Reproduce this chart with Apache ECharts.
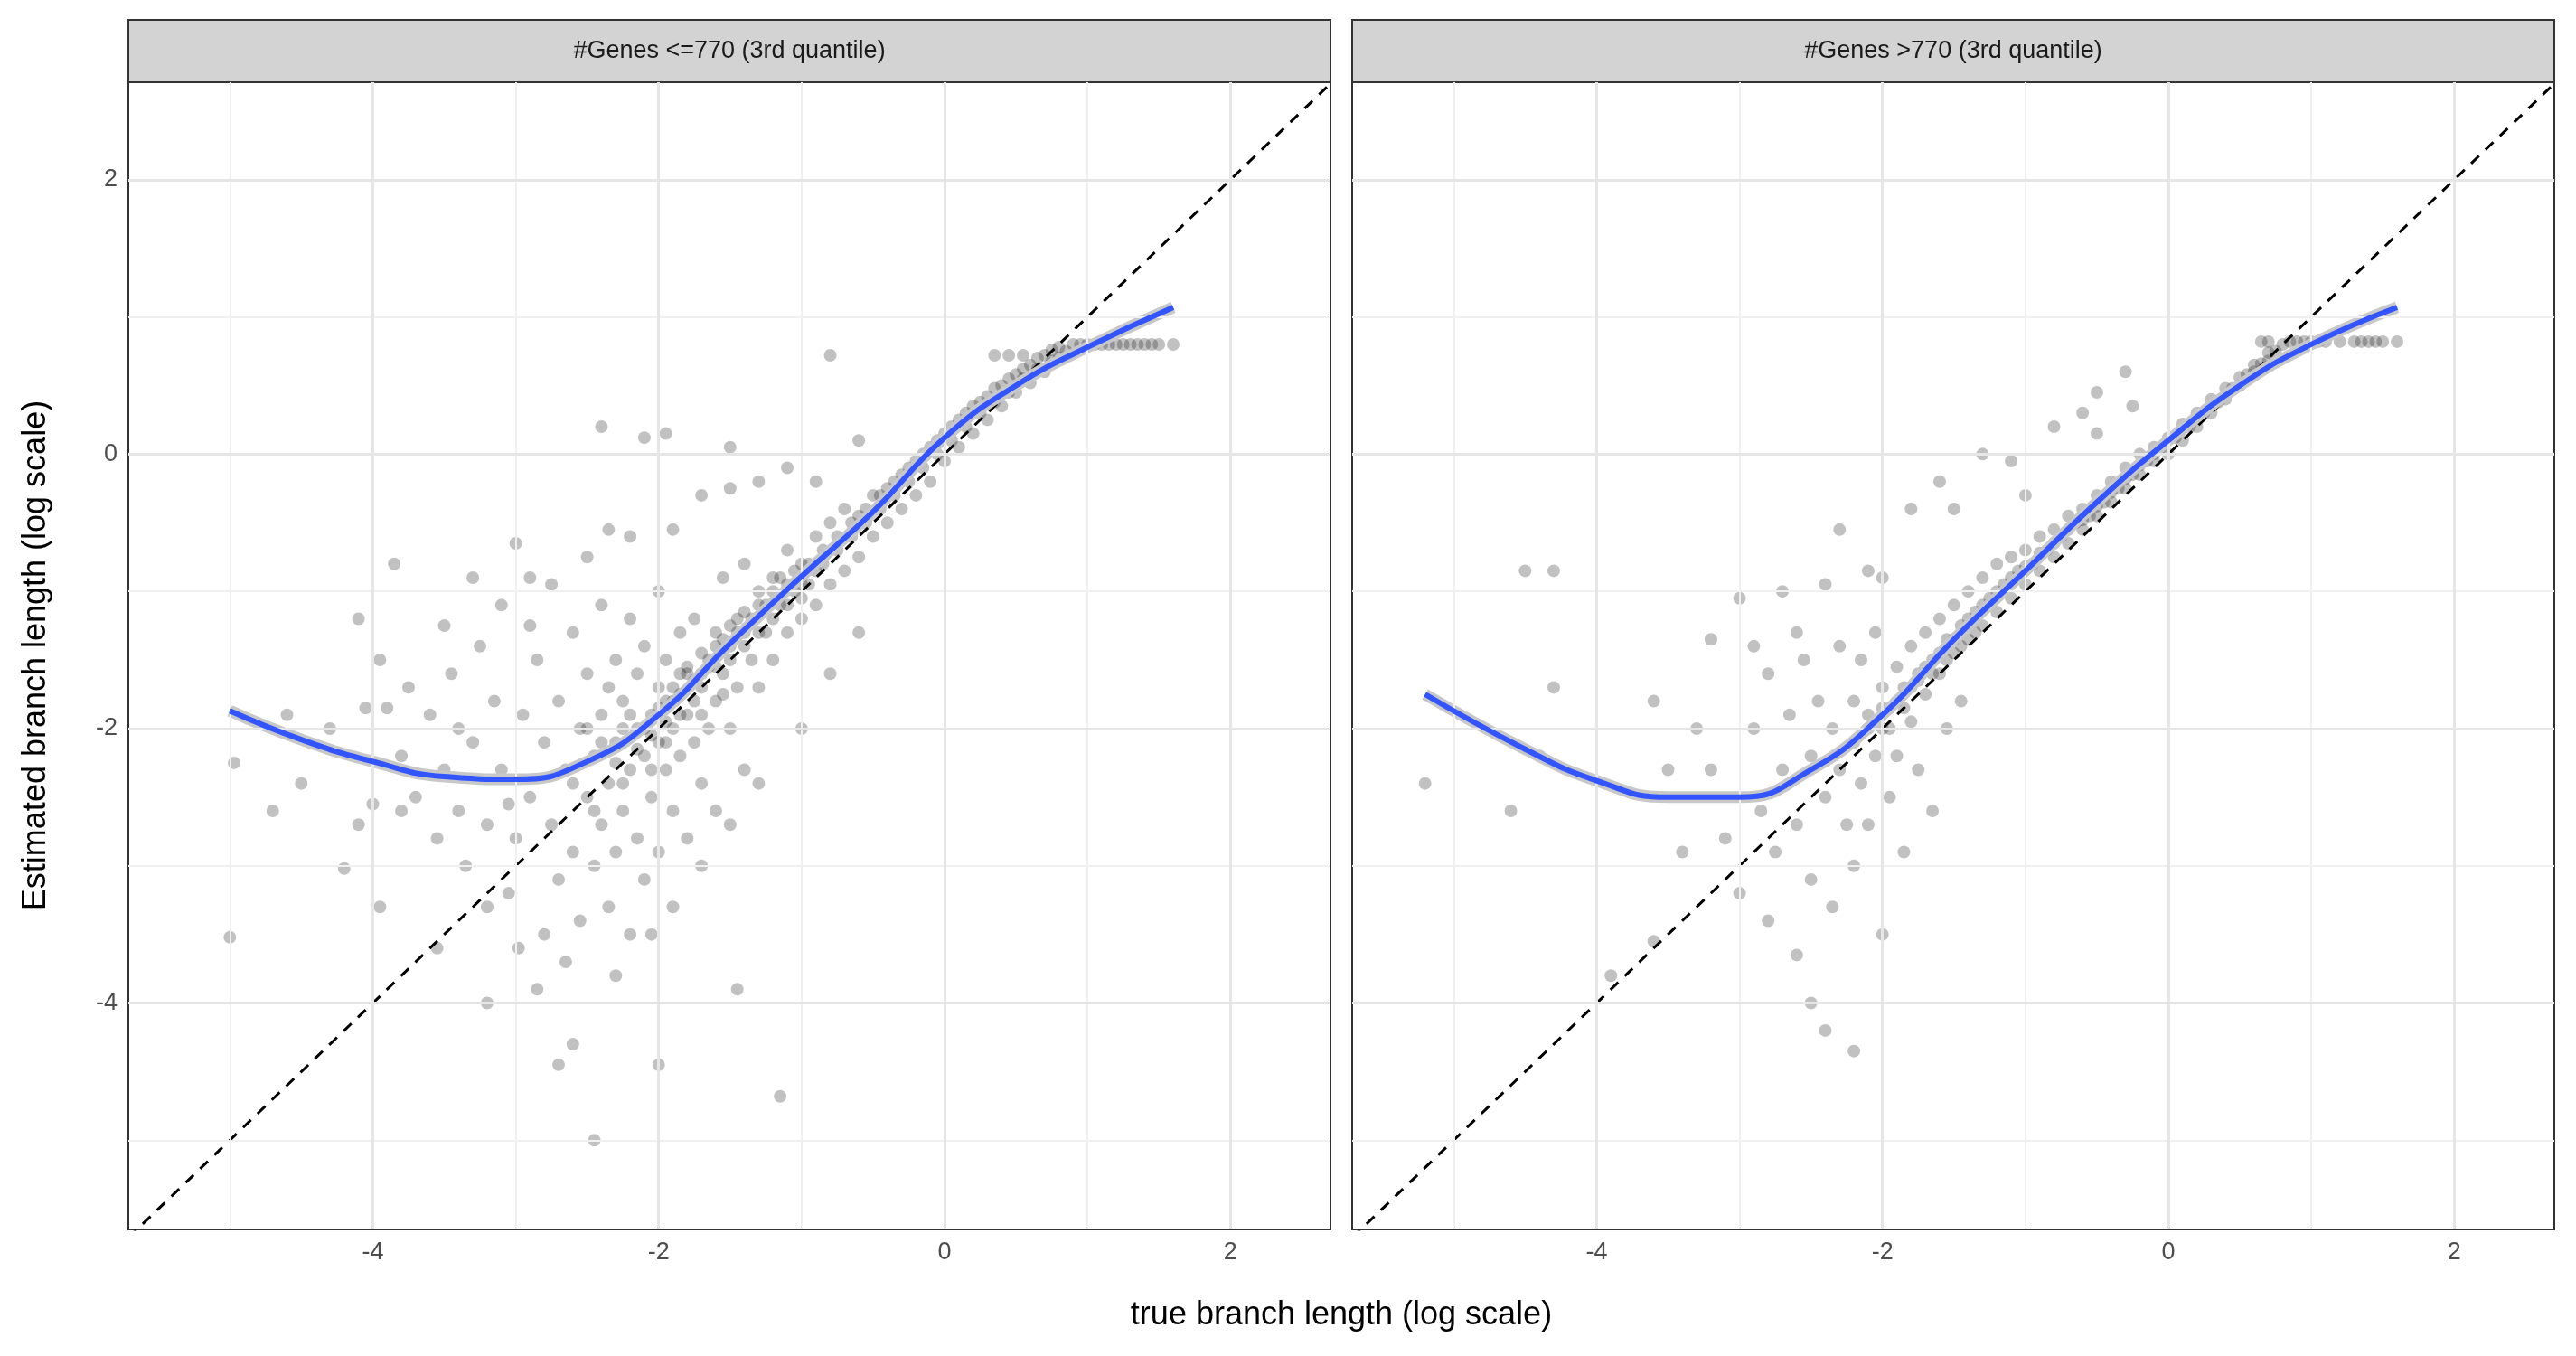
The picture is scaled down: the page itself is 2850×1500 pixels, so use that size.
<!DOCTYPE html>
<html>
<head>
<meta charset="utf-8">
<script src="https://cdn.jsdelivr.net/npm/echarts@6/dist/echarts.min.js"></script>
<style>html,body{margin:0;padding:0;background:#fff}#main{width:2850px;height:1500px}</style>
</head>
<body>
<div id="main"></div>
<script>
// axis limits and ticks
var axisMinX = -5.71, axisMaxX = 2.70;
var axisMinY = -5.65, axisMaxY = 2.71;
var majorTicks = [-4, -2, 0, 2];
var minorTicks = [-5, -3, -1, 1];
var panelTitles = ['#Genes <=770 (3rd quantile)', '#Genes >770 (3rd quantile)'];

// loess curves
var smoothLeft = [[-5,-1.87],[-4.5,-2.08],[-4,-2.24],[-3.5,-2.35],[-3,-2.37],[-2.5,-2.24],[-2,-1.9],[-1.5,-1.38],[-1,-0.89],[-0.5,-0.42],[0,0.12],[0.5,0.5],[1,0.78],[1.6,1.07]];
var smoothRight = [[-5.2,-1.75],[-4.5,-2.15],[-4,-2.38],[-3.5,-2.5],[-3,-2.5],[-2.5,-2.3],[-2,-1.9],[-1.5,-1.35],[-1,-0.85],[-0.5,-0.35],[0,0.1],[0.5,0.5],[1,0.8],[1.6,1.07]];

// scatter points, left panel
var pointsLeft = [
[-5,-3.52],[-4.97,-2.25],[-4.2,-3.02],[-4.1,-2.7],[-3.95,-1.5],[-3.9,-1.85],[-4.05,-1.85],[-3.8,-2.6],[-3.75,-1.7],[-3.5,-1.25],[-3.4,-2.0],[-3.55,-3.6],[-3.2,-4.0],[-3.0,-0.65],[-2.9,-0.9],[-2.7,-4.45],[-2.6,-4.3],[-2.45,-5.0],[-2.35,-0.55],[-2.4,0.2],[-2.1,0.12],[-1.95,0.15],[-1.45,-3.9],[-1.15,-4.68],[-0.8,0.72],[-1.5,0.05],[-3.85,-0.8],[-4.1,-1.2],[-3.3,-0.9],[-2.0,-4.45],
[-3.8,-2.2],[-3.7,-2.5],[-3.6,-1.9],[-3.55,-2.8],[-3.5,-2.3],[-3.45,-1.6],[-3.4,-2.6],[-3.35,-3.0],[-3.3,-2.1],[-3.25,-1.4],[-3.2,-2.7],[-3.2,-3.3],[-3.15,-1.8],[-3.1,-1.1],[-3.05,-2.55],[-2.98,-3.6],[-2.9,-1.25],[-2.85,-3.9],[-2.75,-0.95],[-2.65,-3.7],[-2.5,-0.75],[-2.3,-3.8],[-2.2,-0.6],[-2.05,-3.5],[-1.9,-0.55],[-1.9,-3.3],[-1.7,-0.3],[-1.7,-3.0],[-1.5,-0.25],[-1.5,-2.7],[-1.3,-0.2],[-1.3,-2.4],[-1.1,-0.1],[-1.0,-2.0],[-0.9,-0.2],[-0.8,-1.6],[-0.6,0.1],[-0.6,-1.3],[-4.5,-2.4],[-4.3,-2.0],[-4.0,-2.55],[-3.95,-3.3],[-4.6,-1.9],[-4.7,-2.6],
[-3.1,-2.3],[-3,-2.8],[-2.95,-1.9],[-3.05,-3.2],[-2.9,-2.5],[-2.85,-1.5],[-2.8,-3.5],[-2.8,-2.1],[-2.75,-2.7],[-2.7,-1.8],[-2.7,-3.1],[-2.65,-2.3],[-2.6,-1.3],[-2.6,-2.9],[-2.55,-2.0],[-2.55,-3.4],[-2.5,-2.5],[-2.5,-1.6],[-2.45,-2.2],[-2.45,-3.0],[-2.4,-1.1],[-2.4,-2.7],[-2.4,-1.9],[-2.35,-3.3],[-2.35,-2.4],[-2.3,-1.5],[-2.3,-2.1],[-2.3,-2.9],[-2.25,-1.8],[-2.25,-2.6],[-2.2,-1.2],[-2.2,-2.3],[-2.2,-3.5],[-2.15,-2.0],[-2.15,-1.6],[-2.15,-2.8],[-2.1,-2.2],[-2.1,-1.4],[-2.1,-3.1],[-2.05,-1.9],[-2.05,-2.5],[-2.0,-2.1],[-2.0,-1.7],[-2.0,-2.9],[-2.0,-1.0],[-1.95,-2.3],[-1.95,-1.5],[-1.9,-2.0],[-1.9,-1.8],[-1.9,-2.6],[-1.85,-1.3],[-1.85,-2.2],[-1.8,-1.9],[-1.8,-1.6],[-1.8,-2.8],[-1.75,-2.1],[-1.75,-1.2],[-1.7,-1.7],[-1.7,-2.4],[-1.65,-1.5],[-1.65,-2.0],[-1.6,-1.3],[-1.6,-1.8],[-1.6,-2.6],[-1.55,-1.6],[-1.55,-0.9],[-1.5,-1.4],[-1.5,-2.0],[-1.45,-1.2],[-1.45,-1.7],[-1.4,-1.3],[-1.4,-0.8],[-1.4,-2.3],[-1.35,-1.5],[-1.3,-1.1],[-1.3,-1.7],[-1.25,-1.3],[-1.2,-0.9],[-1.2,-1.5],[-1.15,-1.1],[-1.1,-0.7],[-1.1,-1.3],[-1.05,-1.0],[-1.0,-0.8],[-1.0,-1.2],[-0.95,-0.95],[-0.9,-0.6],[-0.9,-1.1],[-0.85,-0.8],[-0.8,-0.5],[-0.8,-0.95],[-0.75,-0.7],[-0.7,-0.4],[-0.7,-0.85],[-0.65,-0.6],[-0.6,-0.45],[-0.6,-0.75],[-0.55,-0.5],[-0.5,-0.3],[-0.5,-0.6],[-0.45,-0.4],[-0.4,-0.25],[-0.4,-0.5],[-0.35,-0.3],[-0.3,-0.15],[-0.3,-0.4],[-0.25,-0.2],[-0.2,-0.05],[-0.2,-0.3],[-0.15,-0.1],[-0.1,0.05],[-0.1,-0.2],[-0.05,0.0],[0,0.15],[0,-0.05],[0.05,0.1],[0.1,0.25],[0.1,0.05],[0.15,0.2],[0.2,0.35],[0.2,0.15],[0.25,0.3],[0.3,0.42],[0.3,0.25],[0.35,0.38],[0.4,0.5],[0.4,0.35],[0.45,0.45],[0.5,0.58],[0.5,0.45],[0.55,0.55],[0.6,0.65],[0.6,0.52],[0.65,0.62],[0.7,0.72],[0.7,0.6],[0.75,0.68],[0.8,0.78],[0.8,0.7],[0.85,0.75],[0.9,0.8],[0.95,0.8],[1.0,0.8],[1.05,0.8],[1.1,0.8],[1.15,0.8],[1.2,0.8],[1.25,0.8],[1.3,0.8],[1.35,0.8],[1.4,0.8],[1.45,0.8],[1.5,0.8],[1.6,0.8],[0.35,0.72],[0.45,0.72],[0.55,0.72],
[-2.2,-1.9],[-2.1,-2.0],[-2.0,-1.85],[-1.95,-1.95],[-1.9,-1.7],[-1.85,-1.75],[-1.8,-1.55],[-1.75,-1.65],[-1.7,-1.45],[-1.65,-1.55],[-1.6,-1.4],[-1.55,-1.35],[-1.5,-1.25],[-1.45,-1.3],[-1.4,-1.15],[-1.35,-1.2],[-1.3,-1.0],[-1.25,-1.1],[-1.2,-1.0],[-1.15,-0.9],[-1.1,-0.95],[-1.05,-0.85],[-1.0,-0.95],[-0.95,-0.8],[-0.9,-0.85],[-0.85,-0.7],[-0.75,-0.6],[-0.65,-0.5],[-0.55,-0.4],[-0.45,-0.3],[-0.35,-0.2],[-0.25,-0.1],[-0.15,0.0],[-0.05,0.1],[0.05,0.2],[0.15,0.3],[0.25,0.38],[0.35,0.48],[0.45,0.55],[0.55,0.62],[0.65,0.7],[0.75,0.76],
[-2.4,-2.1],[-2.3,-2.25],[-2.25,-2.0],[-2.15,-2.15],[-2.05,-2.05],[-1.95,-1.8],[-1.85,-1.9],[-1.75,-1.8],[-1.7,-1.6],[-1.6,-1.55],[-1.5,-1.5],[-1.4,-1.4],[-1.3,-1.3],[-1.2,-1.2],[-1.1,-1.1],[-1.0,-1.05],[-2.6,-2.4],[-2.5,-2.0],[-2.45,-2.6],[-2.35,-1.7],[-2.25,-2.4],[-2.05,-2.3],[-1.95,-2.1],[-1.85,-1.6],[-1.7,-1.9],[-1.55,-1.75]
];

// scatter points, right panel
var pointsRight = [
[-5.2,-2.4],[-4.6,-2.6],[-4.5,-0.85],[-4.3,-0.85],[-4.3,-1.7],[-4.4,-2.2],[-3.9,-3.8],[-3.6,-3.55],[-3.2,-1.35],[-3.0,-1.05],[-2.7,-1.0],[-2.6,-3.65],[-2.5,-4.0],[-2.4,-4.2],[-2.2,-4.35],[-2.4,-0.95],[-2.1,-0.85],[-1.5,-0.4],[-0.5,0.45],[-0.25,0.35],[-0.5,0.15],[-1.0,-0.3],[-2.3,-0.55],[-1.1,-0.05],[-3.5,-2.3],[-3.3,-2.0],[-3.6,-1.8],[-3.1,-2.8],[-3.4,-2.9],[-3.0,-3.2],[-2.8,-3.4],[-3.2,-2.3],
[-2.9,-2.0],[-2.85,-2.6],[-2.8,-1.6],[-2.75,-2.9],[-2.7,-2.3],[-2.65,-1.9],[-2.6,-2.7],[-2.55,-1.5],[-2.5,-2.2],[-2.5,-3.1],[-2.45,-1.8],[-2.4,-2.5],[-2.35,-2.0],[-2.35,-3.3],[-2.3,-1.4],[-2.3,-2.3],[-2.25,-2.7],[-2.2,-1.8],[-2.2,-2.1],[-2.2,-3.0],[-2.15,-1.5],[-2.15,-2.4],[-2.1,-1.9],[-2.1,-2.7],[-2.05,-1.3],[-2.05,-2.2],[-2.0,-1.7],[-2.0,-2.0],[-2.0,-3.5],[-1.95,-1.85],[-1.95,-2.5],[-1.9,-1.55],[-1.9,-2.2],[-1.85,-1.7],[-1.85,-2.9],[-1.8,-1.4],[-1.8,-1.95],[-1.75,-1.6],[-1.75,-2.3],[-1.7,-1.3],[-1.7,-1.75],[-1.65,-1.5],[-1.65,-2.6],[-1.6,-1.2],[-1.6,-1.6],[-1.55,-1.35],[-1.55,-2.0],[-1.5,-1.1],[-1.5,-1.45],[-1.45,-1.25],[-1.45,-1.8],[-1.4,-1.0],[-1.4,-1.35],[-1.35,-1.15],[-1.3,-0.9],[-1.3,-1.25],[-1.25,-1.05],[-1.2,-0.8],[-1.2,-1.15],[-1.15,-0.95],[-1.1,-0.75],[-1.1,-1.05],[-1.05,-0.85],[-1.0,-0.7],[-1.0,-0.95],[-0.95,-0.8],[-0.9,-0.6],[-0.9,-0.85],[-0.85,-0.7],[-0.8,-0.55],[-0.8,-0.75],[-0.75,-0.6],[-0.7,-0.45],[-0.7,-0.65],[-0.65,-0.5],[-0.6,-0.4],[-0.6,-0.55],[-0.55,-0.45],[-0.5,-0.3],[-0.5,-0.45],[-0.45,-0.35],[-0.4,-0.2],[-0.4,-0.35],[-0.35,-0.25],[-0.3,-0.1],[-0.3,-0.25],[-0.25,-0.15],[-0.2,0.0],[-0.2,-0.15],[-0.15,-0.05],[-0.1,0.05],[-0.1,-0.05],[-0.05,0.05],[0,0.12],[0,0.0],[0.05,0.12],[0.1,0.22],[0.1,0.1],[0.15,0.2],[0.2,0.3],[0.2,0.2],[0.25,0.3],[0.3,0.4],[0.3,0.3],[0.35,0.38],[0.4,0.48],[0.4,0.4],[0.45,0.48],[0.5,0.56],[0.5,0.5],[0.55,0.58],[0.6,0.65],[0.6,0.6],[0.65,0.66],[0.7,0.74],[0.7,0.68],[0.75,0.75],[0.8,0.8],[0.85,0.82],[0.9,0.82],[0.95,0.82],[1.0,0.82],[1.05,0.82],[1.1,0.82],[1.2,0.82],[1.3,0.82],[1.35,0.82],[1.4,0.82],[1.45,0.82],[1.5,0.82],[1.6,0.82],[0.65,0.82],[0.7,0.82],
[-1.6,-0.2],[-1.8,-0.4],[-0.8,0.2],[-0.3,0.6],[-1.3,0.0],[-0.6,0.3],[-2.6,-1.3],[-2.9,-1.4],[-2.0,-0.9],
[-1.9,-1.8],[-1.8,-1.7],[-1.7,-1.55],[-1.6,-1.45],[-1.5,-1.35],[-1.4,-1.2],[-1.3,-1.1],[-1.2,-1.0],[-1.1,-0.9],[-1.0,-0.82],[-0.9,-0.72],[-0.8,-0.65],[-0.7,-0.55],[-0.6,-0.48],[-0.5,-0.38],[-0.4,-0.28],[-0.3,-0.18],[-0.2,-0.08],[-0.1,0.0],[-2.1,-2.0],[-2.0,-1.85],[-1.95,-2.0],[-1.85,-1.85],[-1.75,-1.65],[-1.65,-1.6],[-1.55,-1.5],[-1.45,-1.4],[-1.35,-1.3]
];

var chart = echarts.init(document.getElementById('main'));

var panels = [
  {left: 142, points: pointsLeft, smooth: smoothLeft},
  {left: 1496, points: pointsRight, smooth: smoothRight}
];
var panelTop = 91, panelWidth = 1330, panelHeight = 1269;

var grids = [], xAxes = [], yAxes = [], series = [], graphics = [];

panels.forEach(function (p, i) {
  grids.push({left: p.left, top: panelTop, width: panelWidth, height: panelHeight,
    show: true, borderColor: '#333', borderWidth: 2, backgroundColor: '#fff'});
  xAxes.push({type: 'value', gridIndex: i, min: axisMinX, max: axisMaxX,
    axisLine: {show: false}, splitLine: {show: false},
    axisTick: {show: true, customValues: majorTicks, length: 8, lineStyle: {color: '#333', width: 2}},
    axisLabel: {customValues: majorTicks, color: '#4d4d4d', fontSize: 27, margin: 12, fontFamily: 'Liberation Sans'}});
  yAxes.push({type: 'value', gridIndex: i, min: axisMinY, max: axisMaxY,
    axisLine: {show: false}, splitLine: {show: false},
    axisTick: {show: i === 0, customValues: majorTicks, length: 8, lineStyle: {color: '#333', width: 2}},
    axisLabel: {show: i === 0, customValues: majorTicks, color: '#4d4d4d', fontSize: 27, margin: 12, fontFamily: 'Liberation Sans'}});

  // grid lines
  var gl = [];
  minorTicks.forEach(function (v) {
    gl.push({xAxis: v, lineStyle: {color: '#f0f0f0', width: 2, type: 'solid'}});
    gl.push({yAxis: v, lineStyle: {color: '#f0f0f0', width: 2, type: 'solid'}});
  });
  majorTicks.forEach(function (v) {
    gl.push({xAxis: v, lineStyle: {color: '#e6e6e6', width: 3, type: 'solid'}});
    gl.push({yAxis: v, lineStyle: {color: '#e6e6e6', width: 3, type: 'solid'}});
  });
  series.push({type: 'scatter', xAxisIndex: i, yAxisIndex: i, data: [], silent: true, z: 1,
    markLine: {silent: true, symbol: 'none', label: {show: false}, animation: false, data: gl}});

  // y = x reference
  series.push({type: 'line', xAxisIndex: i, yAxisIndex: i, data: [[axisMinX, axisMinX], [axisMaxX, axisMaxX]],
    showSymbol: false, silent: true, z: 2, lineStyle: {color: '#000', width: 3, type: [12, 10]}});

  series.push({type: 'scatter', xAxisIndex: i, yAxisIndex: i, data: p.points, symbolSize: 14,
    itemStyle: {color: 'rgba(0,0,0,0.3)'}, z: 3, silent: true, animation: false});
  series.push({type: 'line', xAxisIndex: i, yAxisIndex: i, data: p.smooth, smooth: true, showSymbol: false,
    lineStyle: {color: '#c8c8c8', width: 13}, z: 4, silent: true, animation: false});
  series.push({type: 'line', xAxisIndex: i, yAxisIndex: i, data: p.smooth, smooth: true, showSymbol: false,
    lineStyle: {color: '#3355ff', width: 6}, z: 5, silent: true, animation: false});

  graphics.push({type: 'rect', shape: {x: p.left, y: 22, width: panelWidth, height: 69},
    style: {fill: '#d3d3d3', stroke: '#333', lineWidth: 2}});
  graphics.push({type: 'text', x: p.left + panelWidth / 2, y: 57,
    style: {text: panelTitles[i], fill: '#1a1a1a', font: '27px "Liberation Sans"', align: 'center', verticalAlign: 'middle'}});
});

graphics.push({type: 'text', x: 1484, y: 1455,
  style: {text: 'true branch length (log scale)', fill: '#000', font: '36px "Liberation Sans"', align: 'center', verticalAlign: 'middle'}});
graphics.push({type: 'text', x: 40, y: 725, rotation: Math.PI / 2,
  style: {text: 'Estimated branch length (log scale)', fill: '#000', font: '36px "Liberation Sans"', align: 'center', verticalAlign: 'middle'}});

chart.setOption({
  animation: false,
  backgroundColor: '#fff',
  grid: grids, xAxis: xAxes, yAxis: yAxes, series: series, graphic: graphics
});
</script>
</body>
</html>
